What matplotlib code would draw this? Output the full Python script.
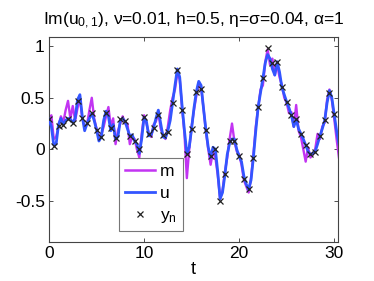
import numpy as np
import matplotlib
matplotlib.use("Agg")
import matplotlib.pyplot as plt
from matplotlib.lines import Line2D

# fine time grid (dt = 0.25) for m and u, observation times every h = 0.5
t_fine = [i * 0.25 for i in range(123)]
u_vals = [0.29, 0.22, 0.04, 0.05, 0.24, 0.30, 0.24, 0.28, 0.30, 0.29, 0.26, 0.30,
          0.48, 0.53, 0.32, 0.18, 0.25, 0.30, 0.35, 0.28, 0.19, 0.08, 0.12, 0.28,
          0.37, 0.32, 0.18, 0.24, 0.10, 0.12, 0.28, 0.30, 0.27, 0.20, 0.13, 0.14,
          0.08, 0.05, -0.04, 0.10, 0.31, 0.27, 0.13, 0.14, 0.21, 0.30, 0.38, 0.25,
          0.12, 0.11, 0.18, 0.28, 0.45, 0.62, 0.78, 0.70, 0.42, 0.18, -0.04, 0.02,
          0.20, 0.40, 0.56, 0.66, 0.62, 0.40, 0.19, 0.02, -0.08, 0.02, 0.00, -0.22,
          -0.48, -0.42, -0.25, -0.05, 0.06, 0.10, 0.10, 0.00, -0.07, -0.12, -0.26, -0.34,
          -0.39, -0.30, -0.08, 0.18, 0.41, 0.55, 0.69, 0.84, 0.92, 0.88, 0.78, 0.72,
          0.85, 0.75, 0.60, 0.53, 0.46, 0.40, 0.33, 0.22, 0.29, 0.20, 0.15, 0.10,
          0.04, -0.02, -0.05, -0.04, -0.02, 0.05, 0.13, 0.20, 0.28, 0.45, 0.57, 0.50,
          0.34, 0.18, 0.05]
m_vals = [0.30, 0.33, 0.10, 0.12, 0.22, 0.32, 0.26, 0.38, 0.47, 0.30, 0.42, 0.28,
          0.40, 0.50, 0.30, 0.22, 0.24, 0.38, 0.50, 0.30, 0.20, 0.12, 0.14, 0.22,
          0.32, 0.41, 0.22, 0.30, 0.05, 0.18, 0.25, 0.32, 0.25, 0.25, 0.05, 0.12,
          0.10, 0.00, -0.08, 0.15, 0.33, 0.25, 0.15, 0.12, 0.24, 0.27, 0.36, 0.20,
          0.14, 0.10, 0.22, 0.38, 0.50, 0.58, 0.74, 0.68, 0.40, 0.15, -0.28, 0.00,
          0.22, 0.38, 0.52, 0.64, 0.60, 0.40, 0.18, 0.00, -0.15, -0.02, -0.08, -0.25,
          -0.48, -0.40, -0.22, -0.08, 0.10, 0.25, 0.08, -0.02, -0.05, -0.15, -0.30, -0.36,
          -0.42, -0.28, -0.05, 0.22, 0.40, 0.58, 0.62, 0.85, 0.97, 0.82, 0.88, 0.72,
          0.82, 0.70, 0.62, 0.50, 0.45, 0.35, 0.36, 0.22, 0.43, 0.18, 0.12, 0.00,
          -0.12, 0.02, -0.08, -0.05, 0.00, 0.15, 0.10, 0.22, 0.26, 0.48, 0.58, 0.48,
          0.30, 0.10, -0.08]
t_obs = [i * 0.5 for i in range(61)]
y_obs = [0.29, 0.03, 0.23, 0.24, 0.29, 0.26, 0.47, 0.30, 0.26, 0.35, 0.19, 0.12,
         0.35, 0.21, 0.11, 0.29, 0.27, 0.13, 0.08, 0.00, 0.31, 0.15, 0.21, 0.33,
         0.14, 0.17, 0.45, 0.77, 0.38, -0.05, 0.20, 0.56, 0.59, 0.19, -0.07, 0.00,
         -0.50, -0.24, 0.08, 0.08, -0.07, -0.29, -0.39, -0.08, 0.41, 0.69, 0.98, 0.84,
         0.85, 0.60, 0.46, 0.33, 0.29, 0.15, 0.04, -0.05, -0.03, 0.13, 0.28, 0.55,
         0.34]
x_ticks = [0, 10, 20, 30]
y_ticks = [-0.5, 0, 0.5, 1]
y_ticklabels = ['-0.5', '0', '0.5', '1']

plt.rcParams['font.family'] = ['Liberation Sans', 'DejaVu Sans']
plt.rcParams['mathtext.default'] = 'regular'

fig = plt.figure(figsize=(3.74, 2.81), dpi=100)
ax = fig.add_axes([49/374, 1-242/281, 289/374, 205/281])

c_m = '#c234f2'
c_u = '#3355ff'
ax.plot(t_fine, m_vals, color=c_m, lw=1.7, zorder=2)
ax.plot(t_fine, u_vals, color=c_u, lw=2.0, zorder=3)
ax.plot(t_obs, y_obs, linestyle='none', marker='x', color='#222222',
        markersize=4.5, markeredgewidth=0.9, zorder=4)

ax.set_xlim(0, 30.4)
ax.set_ylim(-0.9, 1.09)
ax.set_xticks(x_ticks)
ax.set_yticks(y_ticks)
ax.set_yticklabels(y_ticklabels)
ax.tick_params(direction='in', top=True, right=True, length=3, width=0.6,
               labelsize=12.5, colors='#333333', labelcolor='black', pad=3)
for s in ax.spines.values():
    s.set_color('#444444')
    s.set_linewidth(0.8)

ax.set_xlabel('t', fontsize=13, labelpad=0)
ax.set_title(r'Im(u$_{0,1}$), ν=0.01, h=0.5, η=σ=0.04, α=1', fontsize=12.5, pad=9)

handles = [Line2D([], [], color=c_m, lw=1.8),
           Line2D([], [], color=c_u, lw=2.0),
           Line2D([], [], linestyle='none', marker='x', color='#222222',
                  markersize=4.5, markeredgewidth=0.9)]
leg = ax.legend(handles, ['m', 'u', r'y$_n$'], loc='lower left',
                bbox_to_anchor=(0.242, 0.054), fontsize=12.5, frameon=True,
                fancybox=False, handlelength=1.7, handletextpad=0.3,
                borderpad=0.35, labelspacing=0.38, borderaxespad=0)
leg.get_frame().set_edgecolor('#555555')
leg.get_frame().set_linewidth(0.8)

fig.savefig('out.png', dpi=100)
